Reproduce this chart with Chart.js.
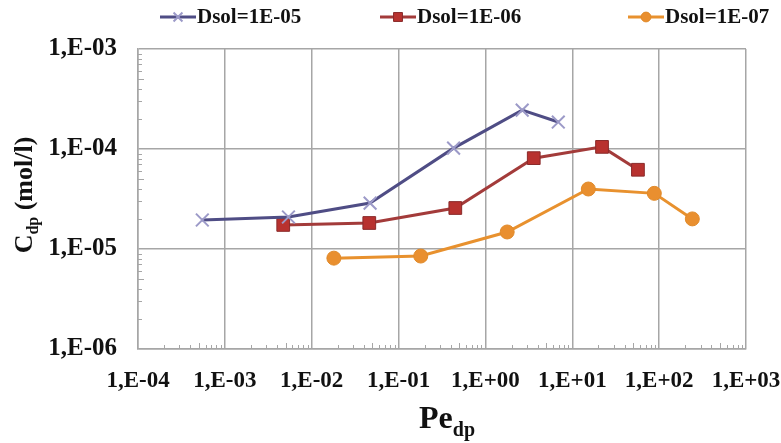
<!DOCTYPE html>
<html>
<head>
<meta charset="utf-8">
<script src="https://cdn.jsdelivr.net/npm/chart.js@4/dist/chart.umd.min.js"></script>
<style>
  html, body { margin: 0; padding: 0; background: #fff; }
  #wrap { width: 781px; height: 443px; }
</style>
</head>
<body>
<div id="wrap"><canvas id="chart" width="781" height="443"></canvas></div>
<script>
// values (log-log axes)
const seriesNames = ["Dsol=1E-05", "Dsol=1E-06", "Dsol=1E-07"];

const pe1 = [5.5e-4, 5.4e-3, 0.047, 0.43, 2.65, 6.9];
const c1 = [1.95e-5, 2.09e-5, 2.88e-5, 1.02e-4, 2.45e-4, 1.86e-4];

const pe2 = [4.7e-3, 0.046, 0.45, 3.6, 22, 57];
const c2 = [1.74e-5, 1.82e-5, 2.57e-5, 8.1e-5, 1.05e-4, 6.2e-5];

const pe3 = [0.018, 0.18, 1.78, 15.3, 88, 241];
const c3 = [8.1e-6, 8.5e-6, 1.48e-5, 3.98e-5, 3.6e-5, 2.0e-5];

const xTicks = [1e-4, 1e-3, 1e-2, 1e-1, 1e0, 1e1, 1e2, 1e3];
const yTicks = [1e-6, 1e-5, 1e-4, 1e-3];

const serif = "'Liberation Serif', 'Times New Roman', serif";
const gridColor = "#a6a6a6";

function fmtSci(v) {
  const e = Math.round(Math.log10(v));
  const sign = e < 0 ? "-" : "+";
  return "1,E" + sign + String(Math.abs(e)).padStart(2, "0");
}

function toPoints(xs, ys) {
  return xs.map((x, i) => ({ x: x, y: ys[i] }));
}

const datasets = [
  {
    label: seriesNames[0],
    data: toPoints(pe1, c1),
    borderColor: "#4f4d85",
    borderWidth: 3,
    pointStyle: "crossRot",
    pointRadius: 9,
    pointBorderWidth: 2,
    pointBorderColor: "#9c9ac8",
    pointBackgroundColor: "#9c9ac8",
  },
  {
    label: seriesNames[1],
    data: toPoints(pe2, c2),
    borderColor: "#a33b3a",
    borderWidth: 3,
    pointStyle: "rect",
    pointRadius: 9,
    pointBorderWidth: 1,
    pointBorderColor: "#8a2b2b",
    pointBackgroundColor: "#b8322f",
  },
  {
    label: seriesNames[2],
    data: toPoints(pe3, c3),
    borderColor: "#e8912e",
    borderWidth: 3,
    pointStyle: "circle",
    pointRadius: 7,
    pointBorderWidth: 1,
    pointBorderColor: "#e08a2a",
    pointBackgroundColor: "#e98f2f",
  },
];

// small log minor ticks inside the plot, on the bottom and left axes
const minorTicks = {
  id: "minorTicks",
  afterDraw(chart) {
    const { ctx, chartArea, scales } = chart;
    ctx.save();
    ctx.strokeStyle = gridColor;
    ctx.lineWidth = 1;
    for (let e = -4; e < 3; e++) {
      for (let m = 2; m <= 9; m++) {
        const px = Math.round(scales.x.getPixelForValue(m * Math.pow(10, e))) + 0.5;
        ctx.beginPath();
        ctx.moveTo(px, chartArea.bottom);
        ctx.lineTo(px, chartArea.bottom - (m === 5 ? 6 : 4));
        ctx.stroke();
      }
    }
    for (let e = -6; e < -3; e++) {
      for (let m = 2; m <= 9; m++) {
        const py = Math.round(scales.y.getPixelForValue(m * Math.pow(10, e))) + 0.5;
        ctx.beginPath();
        ctx.moveTo(chartArea.left, py);
        ctx.lineTo(chartArea.left + (m === 5 ? 6 : 4), py);
        ctx.stroke();
      }
    }
    ctx.restore();
  },
};

// axis titles with subscripts
const axisTitles = {
  id: "axisTitles",
  afterDraw(chart) {
    const ctx = chart.ctx;
    ctx.save();
    ctx.fillStyle = "#111";
    ctx.textBaseline = "alphabetic";

    // x title: Pe_dp
    const big = "bold 32px " + serif;
    const sub = "bold 20px " + serif;
    ctx.font = big;
    const wPe = ctx.measureText("Pe").width;
    ctx.font = sub;
    const wDp = ctx.measureText("dp").width;
    let x0 = 447 - (wPe + wDp) / 2;
    ctx.font = big;
    ctx.fillText("Pe", x0, 428);
    ctx.font = sub;
    ctx.fillText("dp", x0 + wPe, 436);

    // y title: C_dp (mol/l), rotated
    ctx.translate(24, 195);
    ctx.rotate(-Math.PI / 2);
    const yBig = "bold 26px " + serif;
    const ySub = "bold 16px " + serif;
    ctx.font = yBig;
    const wC = ctx.measureText("C").width;
    const wRest = ctx.measureText(" (mol/l)").width;
    ctx.font = ySub;
    const wS = ctx.measureText("dp").width;
    let s = -(wC + wS + wRest) / 2;
    ctx.font = yBig;
    ctx.fillText("C", s, 8);
    ctx.font = ySub;
    ctx.fillText("dp", s + wC, 14);
    ctx.font = yBig;
    ctx.fillText(" (mol/l)", s + wC + wS, 8);
    ctx.restore();
  },
};

// legend: line + marker + label, across the top
const topLegend = {
  id: "topLegend",
  afterDraw(chart) {
    const ctx = chart.ctx;
    const starts = [160, 380, 628];
    const y = 17;
    ctx.save();
    chart.data.datasets.forEach((ds, i) => {
      const x = starts[i];
      ctx.strokeStyle = ds.borderColor;
      ctx.lineWidth = 3;
      ctx.beginPath();
      ctx.moveTo(x, y);
      ctx.lineTo(x + 36, y);
      ctx.stroke();
      ctx.fillStyle = ds.pointBackgroundColor;
      ctx.strokeStyle = ds.pointBorderColor;
      ctx.lineWidth = ds.pointBorderWidth;
      Chart.helpers.drawPoint(ctx, {
        pointStyle: ds.pointStyle,
        radius: ds.pointRadius * 0.7,
        borderWidth: ds.pointBorderWidth,
      }, x + 18, y);
      ctx.fillStyle = "#111";
      ctx.font = "bold 21px " + serif;
      ctx.textBaseline = "middle";
      ctx.fillText(ds.label, x + 37, y + 1);
    });
    ctx.restore();
  },
};

new Chart(document.getElementById("chart"), {
  type: "line",
  data: { datasets: datasets },
  plugins: [minorTicks, axisTitles, topLegend],
  options: {
    responsive: false,
    animation: false,
    layout: { padding: { top: 49, right: 35, left: 0, bottom: 0 } },
    plugins: {
      legend: { display: false },
      tooltip: { enabled: false },
    },
    scales: {
      x: {
        type: "logarithmic",
        min: 1e-4,
        max: 1e3,
        afterBuildTicks: (scale) => { scale.ticks = xTicks.map((v) => ({ value: v })); },
        afterFit: (scale) => {
          scale.height = 94;
          scale.paddingLeft = 0;
          scale.paddingRight = 0;
        },
        grid: { color: gridColor, lineWidth: 1.5, drawTicks: false },
        border: { color: gridColor, width: 1.5 },
        ticks: {
          padding: 18,
          maxRotation: 0,
          autoSkip: false,
          color: "#111",
          font: { family: serif, size: 23, weight: "bold" },
          callback: (v) => fmtSci(v),
        },
      },
      y: {
        type: "logarithmic",
        min: 1e-6,
        max: 1e-3,
        afterBuildTicks: (scale) => { scale.ticks = yTicks.map((v) => ({ value: v })); },
        afterFit: (scale) => {
          scale.width = 138;
          scale.paddingTop = 0;
          scale.paddingBottom = 0;
        },
        grid: { color: gridColor, lineWidth: 1.5, drawTicks: false },
        border: { color: gridColor, width: 1.5 },
        ticks: {
          padding: 21,
          autoSkip: false,
          color: "#111",
          font: { family: serif, size: 25, weight: "bold" },
          callback: (v) => fmtSci(v),
        },
      },
    },
  },
});
</script>
</body>
</html>
